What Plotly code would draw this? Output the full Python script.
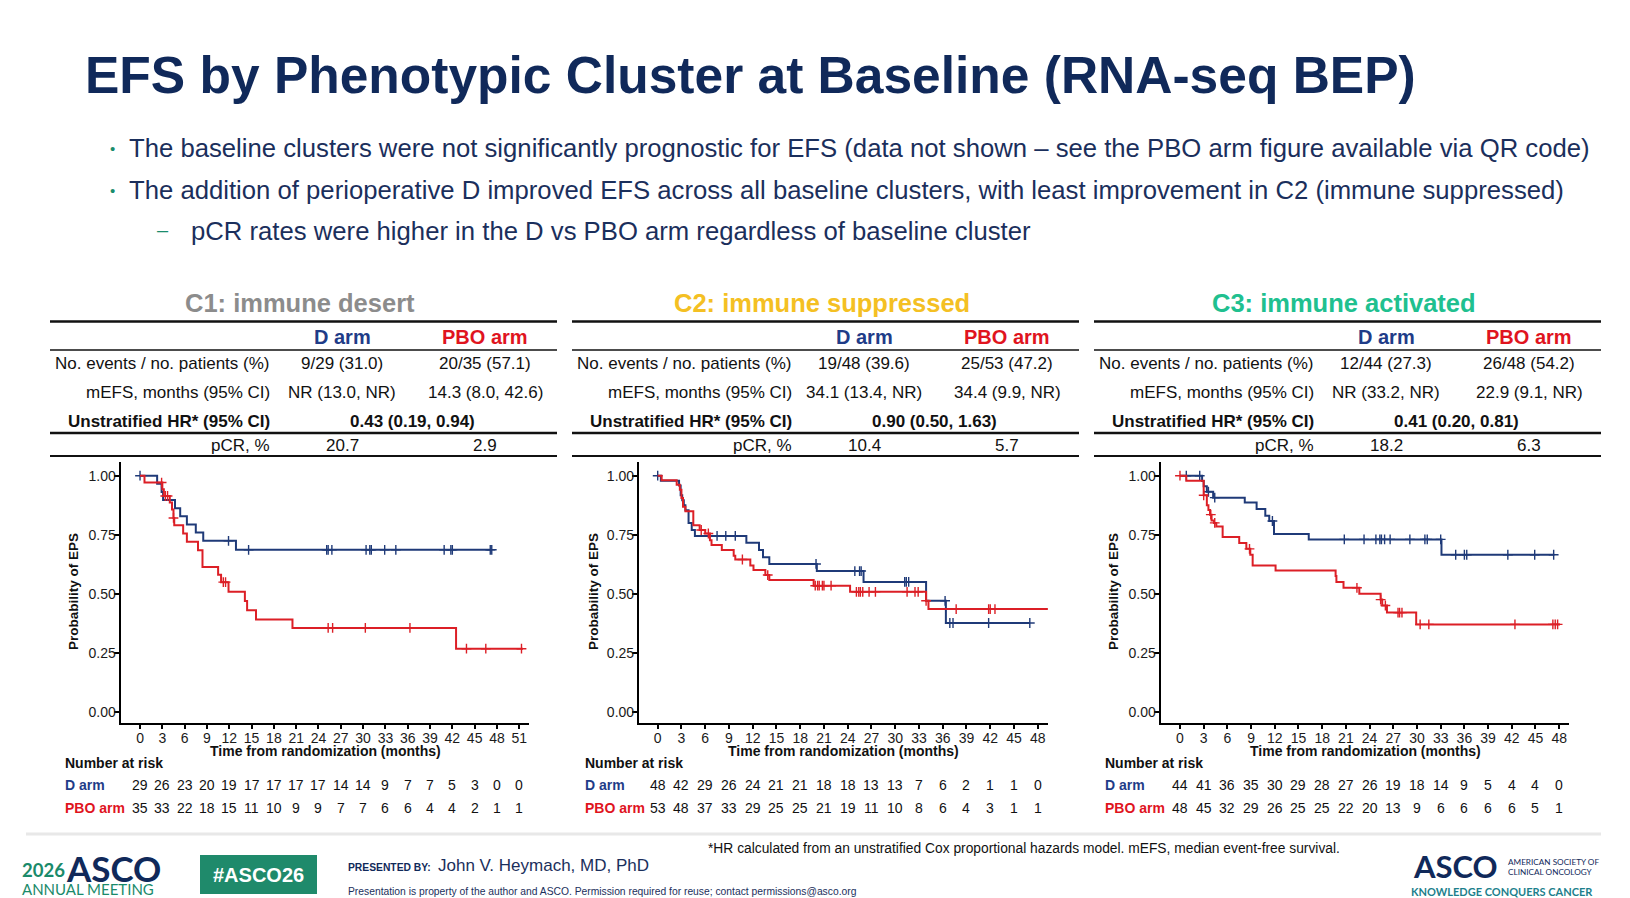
import numpy as np
import plotly.graph_objects as go

W, H = 1630, 898
FONT = "Liberation Sans, Arial, sans-serif"
NAVY = "#10295a"
TEXT_NAVY = "#1b2f5c"
BLUE = "#1f3a78"
RED = "#dc1f26"
HDR_BLUE = "#1f3c88"
HDR_RED = "#e0141e"

# ---------------- data ----------------
cluster_titles = ["C1: immune desert", "C2: immune suppressed", "C3: immune activated"]
cluster_colors = ["#8c8c8c", "#f4c023", "#20c08f"]
events_d = ["9/29 (31.0)", "19/48 (39.6)", "12/44 (27.3)"]
events_p = ["20/35 (57.1)", "25/53 (47.2)", "26/48 (54.2)"]
mefs_d = ["NR (13.0, NR)", "34.1 (13.4, NR)", "NR (33.2, NR)"]
mefs_p = ["14.3 (8.0, 42.6)", "34.4 (9.9, NR)", "22.9 (9.1, NR)"]
hr_text = ["0.43 (0.19, 0.94)", "0.90 (0.50, 1.63)", "0.41 (0.20, 0.81)"]
pcr_d = ["20.7", "10.4", "18.2"]
pcr_p = ["2.9", "5.7", "6.3"]

# KM step data (time in months, survival probability)
c1_d_time = [0, 2.3, 2.9, 3.1, 4.7, 5.4, 6.3, 7.5, 8.5, 12.9]
c1_d_surv = [1.0, 0.966, 0.931, 0.897, 0.862, 0.828, 0.793, 0.759, 0.724, 0.686]
c1_d_end = 47.3
c1_d_cens = [0, 11.9, 14.6, 25.1, 25.3, 25.8, 30.4, 30.9, 31.1, 32.9, 34.4, 40.9, 41.8, 42.0, 47.1, 47.3]

c1_p_time = [0, 0.6, 3.0, 3.2, 4.0, 4.3, 4.5, 4.6, 5.8, 6.3, 7.8, 8.4, 10.5, 10.9, 11.9, 14.1, 14.4, 15.6, 20.5, 42.5]
c1_p_surv = [1.0, 0.971, 0.943, 0.914, 0.886, 0.857, 0.821, 0.790, 0.755, 0.720, 0.684, 0.613, 0.580, 0.549, 0.508, 0.469, 0.430, 0.391, 0.355, 0.267]
c1_p_end = 51.5
c1_p_cens = [2.9, 3.4, 3.7, 4.5, 11.2, 11.5, 25.3, 25.9, 30.3, 36.3, 43.9, 46.5, 51.3]

c2_d_time = [0, 0.4, 2.7, 2.9, 3.1, 3.3, 3.5, 3.9, 4.3, 4.7, 11.2, 12.8, 13.3, 14.1, 20.1, 26.0, 33.9, 36.4]
c2_d_surv = [1.0, 0.979, 0.958, 0.917, 0.896, 0.875, 0.854, 0.800, 0.770, 0.745, 0.716, 0.685, 0.655, 0.626, 0.596, 0.550, 0.470, 0.376]
c2_d_end = 47.0
c2_d_cens = [0, 7.5, 8.6, 9.8, 20.0, 24.9, 25.5, 25.7, 31.2, 31.4, 31.7, 36.3, 36.9, 37.3, 41.8, 47.0]

c2_p_time = [0, 0.5, 2.4, 2.8, 3.0, 3.2, 3.5, 4.5, 5.3, 6.0, 6.6, 6.8, 8.1, 9.6, 9.8, 11.7, 12.1, 13.6, 14.1, 19.7, 24.3, 33.9, 34.2]
c2_p_surv = [1.0, 0.981, 0.962, 0.940, 0.906, 0.868, 0.849, 0.790, 0.770, 0.755, 0.727, 0.706, 0.685, 0.661, 0.645, 0.620, 0.600, 0.579, 0.558, 0.534, 0.508, 0.470, 0.435]
c2_p_end = 49.6
c2_p_cens = [5.5, 6.4, 10.7, 13.9, 19.9, 20.2, 20.4, 20.8, 21.0, 21.9, 25.1, 25.4, 25.6, 25.9, 26.7, 27.5, 31.5, 32.5, 32.9, 33.9, 37.7, 41.8, 42.0, 42.6, 49.6]

c3_d_time = [0, 2.8, 3.0, 3.4, 4.2, 8.2, 9.7, 10.8, 11.3, 11.9, 16.3, 33.1]
c3_d_surv = [1.0, 0.977, 0.955, 0.932, 0.907, 0.886, 0.859, 0.830, 0.808, 0.753, 0.730, 0.665]
c3_d_end = 47.4
c3_d_cens = [0.8, 2.5, 3.6, 4.4, 11.7, 20.8, 23.3, 24.8, 25.3, 25.5, 25.9, 26.6, 29.1, 31.0, 31.3, 33.0, 34.9, 36.0, 36.3, 41.5, 44.9, 47.3]

c3_p_time = [0, 0.8, 3.0, 3.4, 3.6, 3.8, 4.0, 4.3, 4.6, 5.4, 7.5, 8.4, 8.9, 9.2, 12.1, 19.7, 19.8, 20.7, 22.7, 25.4, 25.6, 26.2, 29.9]
c3_p_surv = [1.0, 0.979, 0.917, 0.875, 0.855, 0.835, 0.810, 0.800, 0.785, 0.740, 0.715, 0.690, 0.665, 0.620, 0.598, 0.575, 0.550, 0.525, 0.500, 0.475, 0.450, 0.420, 0.370]
c3_p_end = 48.1
c3_p_cens = [0, 3.0, 3.9, 4.4, 8.8, 22.4, 25.4, 26.0, 27.6, 27.8, 28.1, 30.4, 31.5, 42.4, 47.2, 47.5, 47.8]

# number at risk
c1_risk_times = list(range(0, 52, 3))
c2_risk_times = list(range(0, 49, 3))
c3_risk_times = list(range(0, 49, 3))
c1_risk_d = [29, 26, 23, 20, 19, 17, 17, 17, 17, 14, 14, 9, 7, 7, 5, 3, 0, 0]
c1_risk_p = [35, 33, 22, 18, 15, 11, 10, 9, 9, 7, 7, 6, 6, 4, 4, 2, 1, 1]
c2_risk_d = [48, 42, 29, 26, 24, 21, 21, 18, 18, 13, 13, 7, 6, 2, 1, 1, 0]
c2_risk_p = [53, 48, 37, 33, 29, 25, 25, 21, 19, 11, 10, 8, 6, 4, 3, 1, 1]
c3_risk_d = [44, 41, 36, 35, 30, 29, 28, 27, 26, 19, 18, 14, 9, 5, 4, 4, 0]
c3_risk_p = [48, 45, 32, 29, 26, 25, 25, 22, 20, 13, 9, 6, 6, 6, 6, 5, 1]

y_ticks = [0, 0.25, 0.5, 0.75, 1.0]

panels = [
    dict(d=(c1_d_time, c1_d_surv, c1_d_end, c1_d_cens), p=(c1_p_time, c1_p_surv, c1_p_end, c1_p_cens),
         rt=c1_risk_times, rd=c1_risk_d, rp=c1_risk_p, xr=[-2.6, 52.35], dom=[120.7, 529.3]),
    dict(d=(c2_d_time, c2_d_surv, c2_d_end, c2_d_cens), p=(c2_p_time, c2_p_surv, c2_p_end, c2_p_cens),
         rt=c2_risk_times, rd=c2_risk_d, rp=c2_risk_p, xr=[-2.36, 49.26], dom=[639, 1047.7]),
    dict(d=(c3_d_time, c3_d_surv, c3_d_end, c3_d_cens), p=(c3_p_time, c3_p_surv, c3_p_end, c3_p_cens),
         rt=c3_risk_times, rd=c3_risk_d, rp=c3_risk_p, xr=[-2.44, 49.28], dom=[1160.7, 1569.3]),
]

# ---------------- helpers ----------------
def X(px):
    return px / W

def Y(py):
    return 1 - py / H

annotations = []
shapes = []
PAD = 3  # compensate annotation box padding

def txt(x, y, text, size, color="#111", bold=False, xanchor="left", family=FONT, **kw):
    if xanchor == "left":
        x -= PAD
    elif xanchor == "right":
        x += PAD
    annotations.append(dict(
        x=X(x), y=Y(y), xref="paper", yref="paper", text=("<b>%s</b>" % text) if bold else text,
        showarrow=False, xanchor=xanchor, yanchor="middle",
        font=dict(size=size, color=color, family=family), **kw))

def hline(x0, x1, y, width, color="#111"):
    shapes.append(dict(type="line", xref="paper", yref="paper", x0=X(x0), x1=X(x1), y0=Y(y), y1=Y(y),
                       line=dict(color=color, width=width)))

def step_value(times, surv, t):
    idx = np.searchsorted(np.asarray(times), t, side="right") - 1
    return surv[max(idx, 0)]

fig = go.Figure()

# ---------------- title and bullets ----------------
txt(86, 75, "EFS by Phenotypic Cluster at Baseline (RNA-seq BEP)", 51.5, NAVY, bold=True)
txt(112, 149, "•", 15, "#1a8c6c", xanchor="center")
txt(130, 148, "The baseline clusters were not significantly prognostic for EFS (data not shown – see the PBO arm figure available via QR code)", 25.7, TEXT_NAVY)
txt(112, 190, "•", 15, "#1a8c6c", xanchor="center")
txt(130, 190, "The addition of perioperative D improved EFS across all baseline clusters, with least improvement in C2 (immune suppressed)", 25.7, TEXT_NAVY)
txt(163, 230, "–", 20, "#1a8c6c", xanchor="center")
txt(192, 231, "pCR rates were higher in the D vs PBO arm regardless of baseline cluster", 25.7, TEXT_NAVY)

# ---------------- panels ----------------
for i, pn in enumerate(panels):
    x0 = 50 + 522 * i
    ax = "" if i == 0 else str(i + 1)
    # table
    txt(x0 + 250, 302.5, cluster_titles[i], 25.5, cluster_colors[i], bold=True, xanchor="center")
    hline(x0, x0 + 507, 321.5, 2.5)
    hline(x0, x0 + 507, 350, 1.5)
    hline(x0, x0 + 507, 433, 2.5)
    hline(x0, x0 + 507, 456, 2)
    txt(x0 + 292, 337, "D arm", 20, HDR_BLUE, bold=True, xanchor="center")
    txt(x0 + 435, 337, "PBO arm", 20, HDR_RED, bold=True, xanchor="center")
    txt(x0 + 219, 363.5, "No. events / no. patients (%)", 17, xanchor="right")
    txt(x0 + 292, 363.5, events_d[i], 17, xanchor="center")
    txt(x0 + 435, 363.5, events_p[i], 17, xanchor="center")
    txt(x0 + 219, 392.5, "mEFS, months (95% CI)", 17, xanchor="right")
    txt(x0 + 292, 392.5, mefs_d[i], 17, xanchor="center")
    txt(x0 + 435, 392.5, mefs_p[i], 17, xanchor="center")
    txt(x0 + 219, 421, "Unstratified HR* (95% CI)", 17, bold=True, xanchor="right")
    txt(x0 + 362, 421, hr_text[i], 17, bold=True, xanchor="center")
    txt(x0 + 219, 445, "pCR, %", 17, xanchor="right")
    txt(x0 + 292, 445, pcr_d[i], 17, xanchor="center")
    txt(x0 + 435, 445, pcr_p[i], 17, xanchor="center")

    # KM curves
    for arm, color in (("d", BLUE), ("p", RED)):
        times, surv, end, cens = pn[arm]
        fig.add_trace(go.Scatter(
            x=list(times) + [end], y=list(surv) + [surv[-1]], mode="lines",
            line=dict(color=color, width=2, shape="hv"), xaxis="x" + ax, yaxis="y" + ax,
            showlegend=False, hoverinfo="skip"))
        fig.add_trace(go.Scatter(
            x=cens, y=[step_value(times, surv, t) for t in cens], mode="markers",
            marker=dict(symbol="cross-thin", size=7, line=dict(color=color, width=1.4)),
            xaxis="x" + ax, yaxis="y" + ax, showlegend=False, hoverinfo="skip"))

    d0, d1 = pn["dom"]
    axis_common = dict(showgrid=False, zeroline=False, showline=True, linecolor="#000", linewidth=2.2,
                       ticks="outside", tickwidth=1.5, tickcolor="#000",
                       tickfont=dict(size=14, color="#1a1a1a", family=FONT))
    fig.update_layout(**{
        "xaxis" + ax: dict(domain=[X(d0), X(d1)], range=pn["xr"], tickvals=pn["rt"], ticklen=4,
                           ticklabelstandoff=-3, anchor="y" + ax, **axis_common),
        "yaxis" + ax: dict(domain=[Y(723.3), Y(462)], range=[-0.049, 1.058], tickvals=y_ticks, ticklen=5,
                           ticklabelstandoff=-5, tickformat=".2f", anchor="x" + ax, **axis_common),
    })
    # axis titles
    txt((d0 + d1) / 2, 751, "Time from randomization (months)", 14, bold=True, xanchor="center")
    txt(73 + 520 * i, 592, "Probability of EPS", 13.5, bold=True, xanchor="center", textangle=-90)

    # number at risk
    rx = 66 + 520 * i
    txt(rx, 763, "Number at risk", 14, bold=True)
    txt(rx, 785, "D arm", 14, HDR_BLUE, bold=True)
    txt(rx, 808, "PBO arm", 14, HDR_RED, bold=True)
    for t, n in zip(pn["rt"], pn["rd"]):
        annotations.append(dict(x=t, xref="x" + ax, y=Y(785), yref="paper", text=str(n), showarrow=False,
                                xanchor="center", yanchor="middle", font=dict(size=14, color="#111", family=FONT)))
    for t, n in zip(pn["rt"], pn["rp"]):
        annotations.append(dict(x=t, xref="x" + ax, y=Y(808), yref="paper", text=str(n), showarrow=False,
                                xanchor="center", yanchor="middle", font=dict(size=14, color="#111", family=FONT)))

# ---------------- footer ----------------
hline(26, 1601, 834, 3, "#e8e8e8")
txt(709, 848, "*HR calculated from an unstratified Cox proportional hazards model. mEFS, median event-free survival.", 13.8, "#111")
LOGO = "Lato, Open Sans, sans-serif"
txt(23, 870, "2026", 18.5, "#1a8a6a", bold=True, family=LOGO)
txt(67, 868, "ASCO", 35, NAVY, bold=True, family=LOGO)
txt(23, 888.5, "ANNUAL MEETING", 15, "#1a8a6a", family=LOGO)
shapes.append(dict(type="rect", xref="paper", yref="paper", x0=X(200), x1=X(317), y0=Y(894), y1=Y(855),
                   fillcolor="#1f8a6b", line=dict(width=0)))
txt(258.5, 874.5, "#ASCO26", 20, "#ffffff", bold=True, xanchor="center")
txt(349, 867, "PRESENTED BY:", 10.3, NAVY, bold=True)
txt(439, 865, "John V. Heymach, MD, PhD", 17, TEXT_NAVY)
txt(349, 891, "Presentation is property of the author and ASCO. Permission required for reuse; contact permissions@asco.org", 10.3, TEXT_NAVY)
txt(1414, 866, "ASCO", 31, NAVY, bold=True, family=LOGO)
txt(1509, 862, "AMERICAN SOCIETY OF", 8.2, NAVY, family=LOGO)
txt(1509, 872, "CLINICAL ONCOLOGY", 8.2, NAVY, family=LOGO)
txt(1412, 891.5, "KNOWLEDGE CONQUERS CANCER", 11, "#1d7f8c", bold=True, family=LOGO)

fig.update_layout(
    width=W, height=H, margin=dict(l=0, r=0, t=0, b=0),
    paper_bgcolor="white", plot_bgcolor="white",
    annotations=annotations, shapes=shapes, showlegend=False,
    font=dict(family=FONT),
)

fig.write_html("out.html")
